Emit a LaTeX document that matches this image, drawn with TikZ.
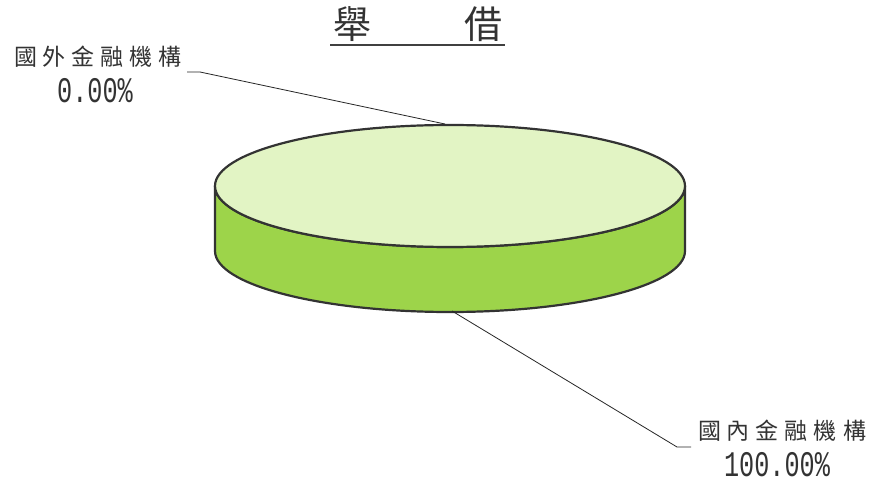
\documentclass[tikz,border=0pt]{standalone}
\usepackage{fontspec}
\setmainfont{Liberation Serif}
\newfontfamily\cjk{Noto Sans CJK TC}
\newfontfamily\digitfont{Liberation Mono}
\definecolor{topgreen}{HTML}{E2F4C4}
\definecolor{sidegreen}{HTML}{9DD44A}
\definecolor{edgegray}{HTML}{333333}
\newcommand\gapc{\hskip 6pt}
\begin{document}
\begin{tikzpicture}[x=1pt,y=-1pt,
  cjklabel/.style={inner sep=0pt,font=\cjk\fontsize{23}{23}\selectfont,text=black!80},
  pctlabel/.style={inner sep=0pt,font=\digitfont\fontsize{36}{36}\selectfont,xscale=0.7,text=black!80},
  leader/.style={draw=black!85,line width=0.8pt},
  pieedge/.style={draw=edgegray,line width=2.2pt}]
\useasboundingbox[fill=white] (0,0) rectangle (872,486);
% title
\node[inner sep=0pt,font=\cjk\fontsize{38}{38}\selectfont,text=black!80] (t1) at (352,24) {舉};
\node[inner sep=0pt,font=\cjk\fontsize{38}{38}\selectfont,text=black!80] (t2) at (483,24) {借};
\coordinate (ulA) at (330,45);
\coordinate (ulB) at (505,45);
\draw[line width=2pt,draw=black!75] (ulA) -- (ulB);
% pie side
\path[fill=sidegreen,pieedge] (215,186) -- (215,251)
  arc[start angle=180,end angle=0,x radius=235,y radius=61] -- (685,186)
  arc[start angle=0,end angle=180,x radius=235,y radius=61] -- cycle;
% pie top
\path[fill=topgreen,pieedge] (450,186) ellipse[x radius=235,y radius=61];
% labels
\node[cjklabel] (lab1) at (98,57) {國\gapc 外\gapc 金\gapc 融\gapc 機\gapc 構};
\node[pctlabel] (pct1) at (95,91) {0.00\%};
\node[cjklabel] (lab2) at (782,431) {國\gapc 內\gapc 金\gapc 融\gapc 機\gapc 構};
\node[pctlabel] (pct2) at (777,465) {100.00\%};
% leaders
\coordinate (l1a) at (187,72);
\coordinate (l1b) at (200,72);
\coordinate (p1) at (445,124);
\draw[leader] (l1a) -- (l1b) -- (p1);
\coordinate (p2) at (452,311);
\coordinate (l2b) at (677,447);
\coordinate (l2a) at (691,447);
\draw[leader] (p2) -- (l2b) -- (l2a);
\end{tikzpicture}
\end{document}
